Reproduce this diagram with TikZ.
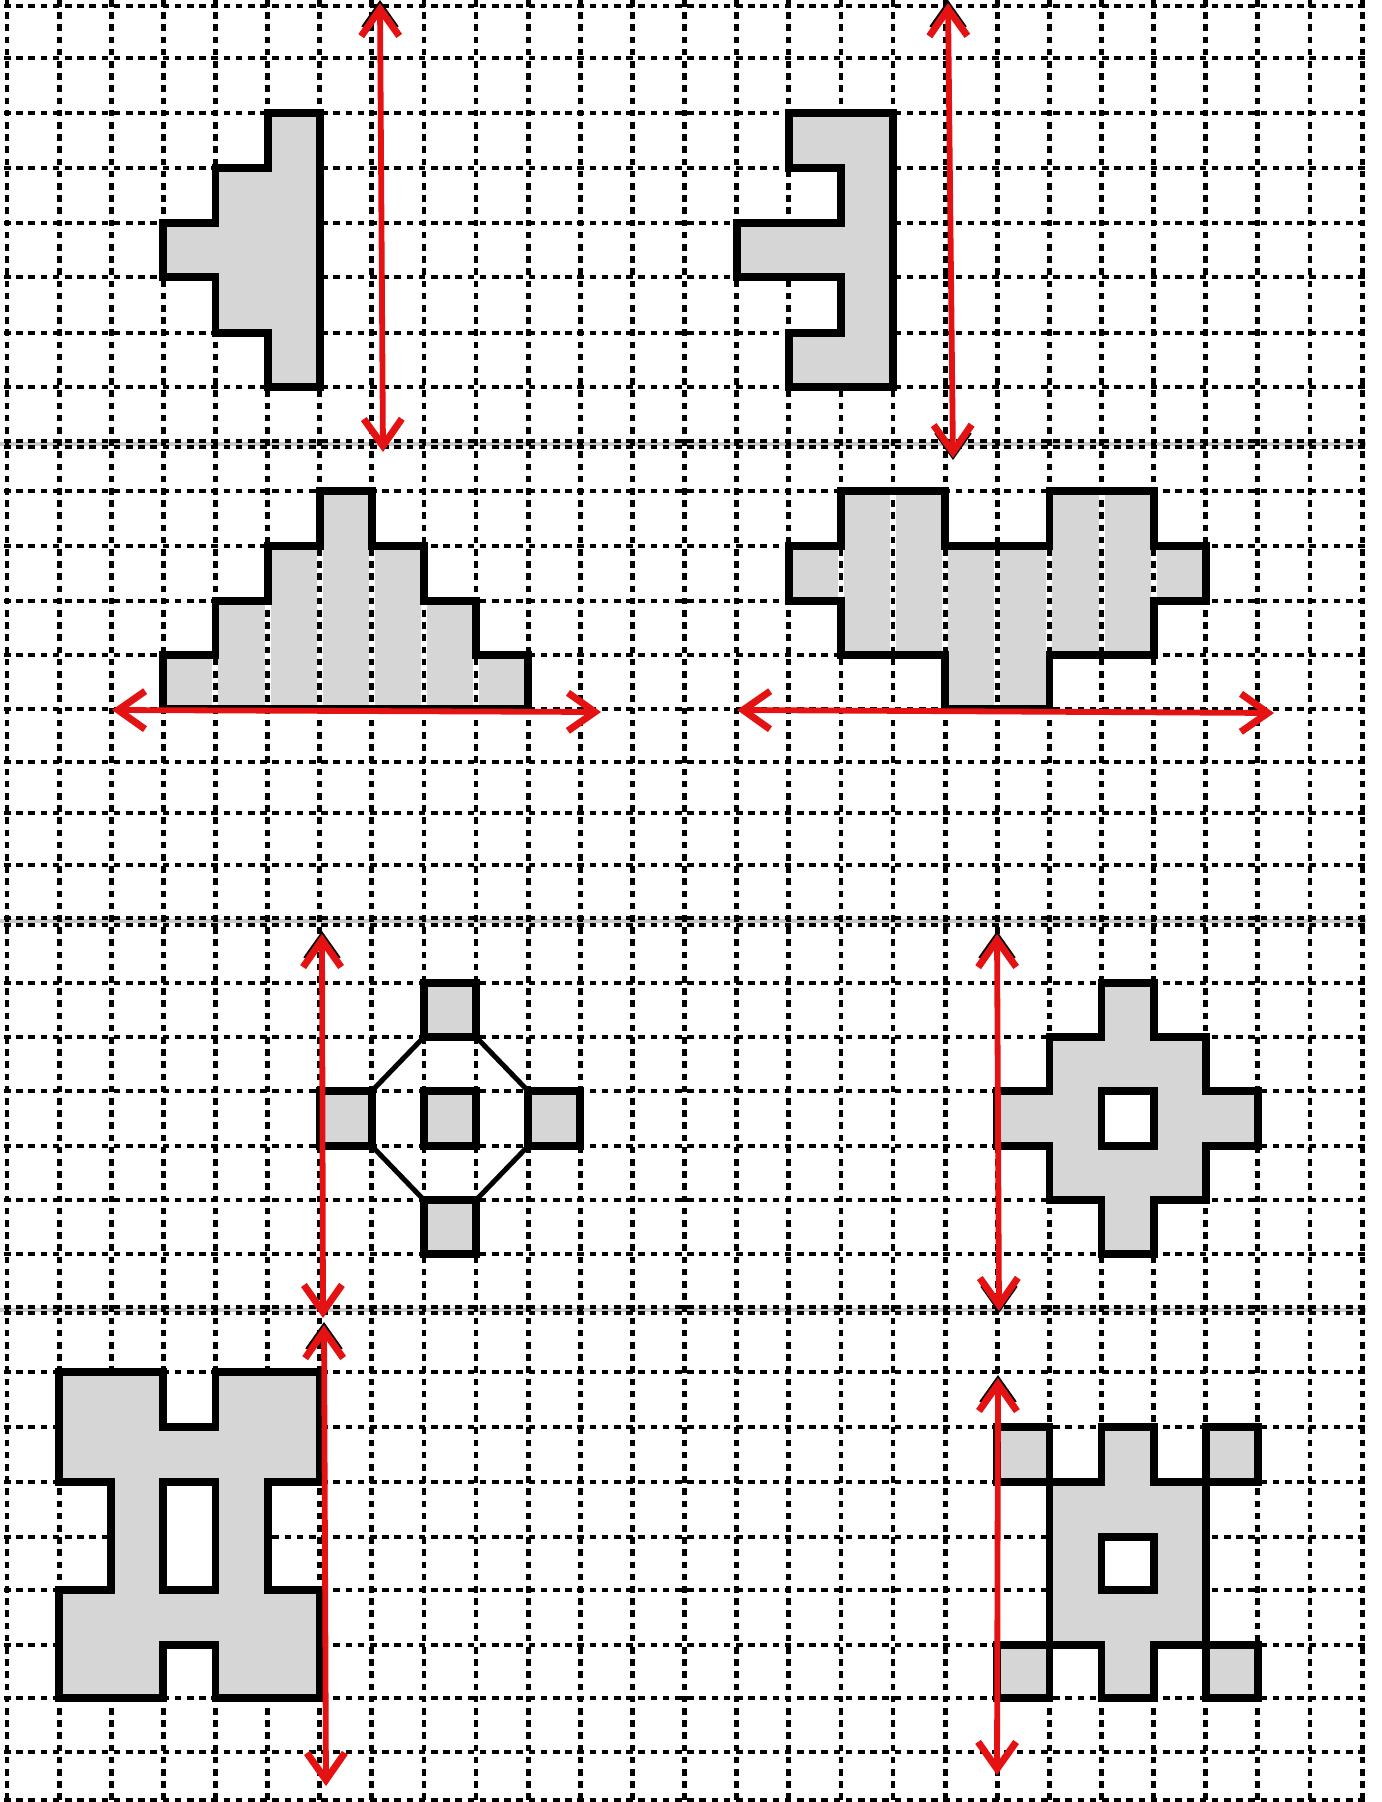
\documentclass[tikz,border=0pt]{standalone}
\usetikzlibrary{arrows.meta}
\definecolor{shapegray}{RGB}{214,214,214}
\definecolor{arrowred}{RGB}{228,18,18}
\begin{document}
\begin{tikzpicture}[x=0.1mm,y=-0.1mm,
  gridline/.style={line width=0.48mm, dash pattern=on 0.66mm off 0.56mm},
  figshape/.style={fill=shapegray, draw=black, line width=0.78mm, line join=miter},
  holeshape/.style={fill=white, draw=black, line width=0.78mm, line join=miter},
  outline/.style={draw=black, line width=0.78mm, line join=miter},
  diag/.style={draw=black, line width=0.5mm},
  seam/.style={draw=black!22, line width=0.35mm},
  redarrow/.style={draw=arrowred, line width=0.58mm,
    {Straight Barb[length=2.7mm,width=3.8mm,line width=0.7mm]}-{Straight Barb[length=2.7mm,width=3.8mm,line width=0.7mm]}},
  blacktip/.style={draw=black, line width=0.4mm, -{Straight Barb[length=2.4mm,width=3.4mm]}}
]
% background and bounding box
\fill[white] (0,0) rectangle (1381,1802);
\useasboundingbox (0,0) rectangle (1381,1802);

% named grid points g<col>-<row>
\foreach \i in {0,...,26}{
  \foreach \y [count=\j from 0] in {6,58,113,168,223,277,333,387,441,491,546,601,655,709,762,813,865,918,983,1037,1091,1146,1200,1254,1307,1372,1427,1482,1537,1590,1645,1698,1752,1800}{
    \coordinate (g\i-\j) at ({7+52.12*\i},\y);
  }
}

% seams between the stacked sheets
\draw[seam] (0,444) -- (1366,444);
\draw[seam] (0,921) -- (1366,921);
\draw[seam] (0,1310) -- (1366,1310);

% horizontal grid lines
\foreach \y in {6,58,113,168,223,277,333,387,441,447,491,546,601,655,709,762,813,865,918,925,983,1037,1091,1146,1200,1254,1307,1313,1372,1427,1482,1537,1590,1645,1698,1752,1800}
  \draw[gridline] (4,\y) -- (1366,\y);

% panel B shapes (grid shows through them)
\def\triB{(g3-13) -- (g3-12) -- (g4-12) -- (g4-11) -- (g5-11) -- (g5-10) -- (g6-10) -- (g6-9) -- (g7-9) -- (g7-10) -- (g8-10) -- (g8-11) -- (g9-11) -- (g9-12) -- (g10-12) -- (g10-13) -- cycle}
\def\dogB{(g16-9) -- (g18-9) -- (g18-10) -- (g20-10) -- (g20-9) -- (g22-9) -- (g22-10) -- (g23-10) -- (g23-11) -- (g22-11) -- (g22-12) -- (g20-12) -- (g20-13) -- (g18-13) -- (g18-12) -- (g16-12) -- (g16-11) -- (g15-11) -- (g15-10) -- (g16-10) -- cycle}
\fill[shapegray] \triB;
\fill[shapegray] \dogB;
\begin{scope}
  \clip \triB;
  \foreach \i in {4,...,9} \draw[white, line width=0.6mm] (g\i-8) -- (g\i-14);
\end{scope}
\begin{scope}
  \clip \dogB;
  \foreach \i in {16,...,22} \draw[white, line width=0.6mm] (g\i-8) -- (g\i-14);
\end{scope}

% vertical grid lines
\foreach \i in {0,...,26}
  \draw[gridline] ({7+52.12*\i},0) -- ({7+52.12*\i},1802);

% panel B outlines
\draw[outline] \triB;
\draw[outline] \dogB;

% panel A shapes
\draw[figshape] (g5-2) -- (g6-2) -- (g6-7) -- (g5-7) -- (g5-6) -- (g4-6) -- (g4-5) -- (g3-5) -- (g3-4) -- (g4-4) -- (g4-3) -- (g5-3) -- cycle;
\draw[figshape] (g15-2) -- (g17-2) -- (g17-7) -- (g15-7) -- (g15-6) -- (g16-6) -- (g16-5) -- (g14-5) -- (g14-4) -- (g16-4) -- (g16-3) -- (g15-3) -- cycle;

% panel C left: squares and diagonals
\draw[diag] (g8-19) -- (g7-20);
\draw[diag] (g9-19) -- (g10-20);
\draw[diag] (g7-21) -- (g8-22);
\draw[diag] (g10-21) -- (g9-22);
\draw[figshape] (g8-18) rectangle (g9-19);
\draw[figshape] (g6-20) rectangle (g7-21);
\draw[figshape] (g8-20) rectangle (g9-21);
\draw[figshape] (g10-20) rectangle (g11-21);
\draw[figshape] (g8-22) rectangle (g9-23);

% panel C right
\draw[figshape] (g21-18) -- (g22-18) -- (g22-19) -- (g23-19) -- (g23-20) -- (g24-20) -- (g24-21) -- (g23-21) -- (g23-22) -- (g22-22) -- (g22-23) -- (g21-23) -- (g21-22) -- (g20-22) -- (g20-21) -- (g19-21) -- (g19-20) -- (g20-20) -- (g20-19) -- (g21-19) -- cycle;
\draw[holeshape] (g21-20) rectangle (g22-21);

% panel D left
\draw[figshape] (g1-25) -- (g3-25) -- (g3-26) -- (g4-26) -- (g4-25) -- (g6-25) -- (g6-27) -- (g5-27) -- (g5-29) -- (g6-29) -- (g6-31) -- (g4-31) -- (g4-30) -- (g3-30) -- (g3-31) -- (g1-31) -- (g1-29) -- (g2-29) -- (g2-27) -- (g1-27) -- cycle;
\draw[holeshape] (g3-27) rectangle (g4-29);

% panel D right
\draw[figshape] (g20-27) -- (g21-27) -- (g21-26) -- (g22-26) -- (g22-27) -- (g23-27) -- (g23-30) -- (g22-30) -- (g22-31) -- (g21-31) -- (g21-30) -- (g20-30) -- cycle;
\draw[figshape] (g19-26) rectangle (g20-27);
\draw[figshape] (g23-26) rectangle (g24-27);
\draw[figshape] (g19-30) rectangle (g20-31);
\draw[figshape] (g23-30) rectangle (g24-31);
\draw[holeshape] (g21-28) rectangle (g22-29);

% arrow end points
\coordinate (a1s) at (380,3);    \coordinate (a1e) at (383,452);
\coordinate (a2s) at (948,3);    \coordinate (a2e) at (953,458);
\coordinate (b1s) at (112,710);  \coordinate (b1e) at (601,712);
\coordinate (b2s) at (737,710);  \coordinate (b2e) at (1274,713);
\coordinate (c1s) at (322,934);  \coordinate (c1e) at (323,1318);
\coordinate (c2s) at (997,934);  \coordinate (c2e) at (999,1311);
\coordinate (d1s) at (324,1325); \coordinate (d1e) at (326,1786);
\coordinate (d2s) at (998,1378); \coordinate (d2e) at (997,1775);

% remnants of black arrow tips
\draw[blacktip] ([yshift=-3mm]a1s) -- ([yshift=0.3mm]a1s);
\draw[blacktip] ([yshift=-3mm]a2s) -- ([yshift=0.3mm]a2s);
\draw[blacktip] ([yshift=-3mm]c1s) -- ([yshift=0.3mm]c1s);
\draw[blacktip] ([yshift=-3mm]c2s) -- ([yshift=0.3mm]c2s);
\draw[blacktip] ([yshift=-3mm]d1s) -- ([yshift=0.3mm]d1s);
\draw[blacktip] ([yshift=-3mm]d2s) -- ([yshift=0.3mm]d2s);
\draw[blacktip] ([yshift=3mm]a2e) -- ([yshift=-0.2mm]a2e);
\draw[blacktip] ([yshift=3mm]c2e) -- ([yshift=-0.2mm]c2e);

% red double arrows (mirror lines)
\draw[redarrow] (a1s) -- (a1e);
\draw[redarrow] (a2s) -- (a2e);
\draw[redarrow] (b1s) -- (b1e);
\draw[redarrow] (b2s) -- (b2e);
\draw[redarrow] (c1s) -- (c1e);
\draw[redarrow] (c2s) -- (c2e);
\draw[redarrow] (d1s) -- (d1e);
\draw[redarrow] (d2s) -- (d2e);
\end{tikzpicture}
\end{document}
